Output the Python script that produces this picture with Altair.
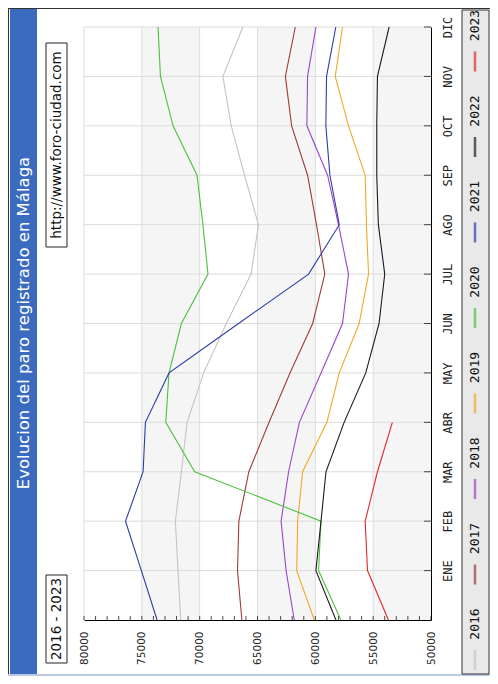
import altair as alt
import pandas as pd

MONTHS = ["ENE", "FEB", "MAR", "ABR", "MAY", "JUN", "JUL", "AGO", "SEP", "OCT", "NOV", "DIC"]
YEARS = ["2016", "2017", "2018", "2019", "2020", "2021", "2022", "2023"]
COLORS = ["#c4c4c4", "#a03a3a", "#9b45cc", "#f0aa25", "#4cc23c", "#2e3ca8", "#1c1c1c", "#e42828"]
WIDTHS = [1.1, 1.1, 1.2, 1.2, 1.8, 1.2, 1.3, 1.3]

# index 0 = start of the month axis, then ENE .. DIC
P2016 = [71640, 71870, 72100, 71580, 71090, 69660, 67700, 65550, 64920, 66120, 67270, 67990, 66270]
P2017 = [66350, 66730, 66610, 65750, 64000, 62190, 60230, 59180, 59900, 60670, 62050, 62590, 61730]
P2018 = [61820, 62530, 62960, 62310, 61380, 59510, 57650, 57130, 58000, 58940, 60730, 60670, 59950]
P2019 = [60090, 61610, 61530, 61100, 59000, 57930, 56210, 55400, 55580, 55690, 57130, 58280, 57650]
P2020 = [57790, 59720, 59510, 70430, 72930, 72650, 71580, 69280, 69720, 70230, 72300, 73390, 73600]
P2021 = [73680, 75040, 76410, 74890, 74690, 72650, 66640, 60580, 57930, 58740, 59090, 59030, 58230]
P2022 = [58220, 59950, 59510, 59080, 57510, 55640, 54490, 54000, 54550, 54690, 54690, 54630, 53620]
P2023 = [53680, 55490, 55690, 54630, 53340]

SERIES = [P2016, P2017, P2018, P2019, P2020, P2021, P2022, P2023]

VALUE_LABELS = [50000, 55000, 60000, 65000, 70000, 75000, 80000]
VALUE_GRID = [55000, 60000, 65000, 70000, 75000, 80000]
MINOR_TICKS = list(range(50000, 80001, 1000))
BAND_START = [75000, 65000, 55000]
BAND_END = [70000, 60000, 50000]
MONTH_POS = list(range(1, 13))

TITLE = "Evolucion del paro registrado en Málaga"
URL = "http://www.foro-ciudad.com"
RANGE_LABEL = "2016 - 2023"

rows = []
for year, vals in zip(YEARS, SERIES):
    for i, v in enumerate(vals):
        rows.append({"year": year, "m": i, "v": v})
df = pd.DataFrame(rows)

bands_df = pd.DataFrame({"s": BAND_START, "e": BAND_END})
vgrid_df = pd.DataFrame({"g": VALUE_GRID})
mgrid_df = pd.DataFrame({"m": MONTH_POS})
minor_df = pd.DataFrame({"t": MINOR_TICKS})
legend_df = pd.DataFrame({"year": YEARS, "li": list(range(len(YEARS)))})
one = pd.DataFrame({"k": [0]})

W, H = 347, 593
XS = alt.Scale(domain=[50000, 80000], reverse=True, nice=False, zero=False)
YS = alt.Scale(domain=[0, 12], nice=False, zero=False)
LS = alt.Scale(domain=[0, 7], range=[633, 34.5])
CS = alt.Scale(domain=YEARS, range=COLORS)
SW = alt.Scale(domain=YEARS, range=WIDTHS)

SANS = "DejaVu Sans"
MONO = "DejaVu Sans Mono"

month_expr = "[" + ",".join("'%s'" % m for m in MONTHS) + "][datum.value - 1]"

# frame and left title band
frame_left = alt.Chart(one).mark_rule(color="#333333", strokeWidth=1).encode(
    x=alt.value(-75.5), y=alt.value(-19), y2=alt.value(649))
frame_top = alt.Chart(one).mark_rule(color="#333333", strokeWidth=1).encode(
    x=alt.value(-76), x2=alt.value(406), y=alt.value(-18.5))
frame_bottom = alt.Chart(one).mark_rule(color="#b9c9e2", strokeWidth=2).encode(
    x=alt.value(-76), x2=alt.value(406), y=alt.value(648))
band = alt.Chart(one).mark_rect(fill="#3b6bbf").encode(
    x=alt.value(-74), x2=alt.value(-47), y=alt.value(-18), y2=alt.value(647))
title = alt.Chart(pd.DataFrame({"t": [TITLE]})).mark_text(
    angle=270, font=SANS, fontSize=16.5, color="#ffffff").encode(
    x=alt.value(-60.5), y=alt.value(296), text="t:N")

url_box = alt.Chart(one).mark_rect(fill="#ffffff", stroke="#222222", strokeWidth=1).encode(
    x=alt.value(-38), x2=alt.value(-17), y=alt.value(16), y2=alt.value(220))
url_txt = alt.Chart(pd.DataFrame({"t": [URL]})).mark_text(
    angle=270, font=SANS, fontSize=13.5, color="#111111").encode(
    x=alt.value(-27.5), y=alt.value(118), text="t:N")
range_box = alt.Chart(one).mark_rect(fill="#ffffff", stroke="#222222", strokeWidth=1).encode(
    x=alt.value(-38), x2=alt.value(-17), y=alt.value(548), y2=alt.value(636))
range_txt = alt.Chart(pd.DataFrame({"t": [RANGE_LABEL]})).mark_text(
    angle=270, font=SANS, fontSize=13.5, color="#111111").encode(
    x=alt.value(-27.5), y=alt.value(592), text="t:N")

# plot background bands and grid
bands = alt.Chart(bands_df).mark_rect(fill="#f5f5f5").encode(
    x=alt.X("s:Q", scale=XS, axis=None), x2="e:Q",
    y=alt.YDatum(0, scale=YS, axis=None), y2=alt.Y2Datum(12))
vgrid = alt.Chart(vgrid_df).mark_rule(color="#dcdcdc", strokeWidth=1).encode(
    x=alt.X("g:Q", scale=XS, axis=None),
    y=alt.YDatum(0, scale=YS, axis=None), y2=alt.Y2Datum(12))
hgrid = alt.Chart(mgrid_df).mark_rule(color="#dcdcdc", strokeWidth=1).encode(
    y=alt.Y("m:Q", scale=YS, axis=None),
    x=alt.XDatum(80000, scale=XS, axis=None), x2=alt.X2Datum(50000))

lines = alt.Chart(df).mark_line().encode(
    x=alt.X("v:Q", scale=XS, axis=alt.Axis(
        values=VALUE_LABELS, format="d", title=None, grid=False, ticks=False,
        labelAngle=270, labelAlign="right", labelBaseline="middle", labelPadding=11,
        labelFont=SANS, labelFontSize=10.5, labelColor="#222222", labelFlush=False,
        labelOverlap=False, domainColor="#000000", domainWidth=1)),
    y=alt.Y("m:Q", scale=YS, axis=alt.Axis(
        orient="right", values=MONTH_POS, labelExpr=month_expr, title=None,
        grid=False, ticks=False, labelAngle=270, labelAlign="center",
        labelBaseline="top", labelPadding=11, labelFont=MONO, labelFontSize=12,
        labelColor="#222222", labelFlush=False, labelOverlap=False,
        domainColor="#000000", domainWidth=1)),
    color=alt.Color("year:N", scale=CS, legend=None),
    strokeWidth=alt.StrokeWidth("year:N", scale=SW, legend=None),
    order=alt.Order("m:Q"),
)

xticks = alt.Chart(minor_df).mark_tick(
    orient="vertical", size=4, thickness=1, yOffset=-2, color="#000000").encode(
    x=alt.X("t:Q", scale=XS, axis=None), y=alt.YDatum(0, scale=YS, axis=None))
yticks = alt.Chart(mgrid_df).mark_tick(
    orient="horizontal", size=7, thickness=1, xOffset=-3.5, color="#000000").encode(
    y=alt.Y("m:Q", scale=YS, axis=None), x=alt.XDatum(50000, scale=XS, axis=None))

# legend drawn on the right, rotated like the rest of the picture
leg_box = alt.Chart(one).mark_rect(fill="#e9e9e9", stroke="#333333", strokeWidth=1).encode(
    x=alt.value(378), x2=alt.value(405), y=alt.value(-17), y2=alt.value(647))
leg_sym = alt.Chart(legend_df).mark_tick(orient="vertical", size=20, thickness=2.5).encode(
    x=alt.value(391), y=alt.Y("li:Q", scale=LS, axis=None),
    color=alt.Color("year:N", scale=CS, legend=None))
leg_txt = alt.Chart(legend_df).mark_text(
    angle=270, font=MONO, fontSize=13, yOffset=-36, color="#111111").encode(
    x=alt.value(391), y=alt.Y("li:Q", scale=LS, axis=None), text="year:N")

chart = alt.layer(
    band, frame_left, frame_top, frame_bottom, title, url_box, url_txt, range_box, range_txt,
    bands, vgrid, hgrid, lines, xticks, yticks, leg_box, leg_sym, leg_txt,
).resolve_scale(x="independent", y="independent").properties(
    width=W, height=H,
    padding={"left": 76, "top": 19, "right": 59, "bottom": 56},
    autosize=alt.AutoSizeParams(type="none"),
    background="#ffffff",
).configure_view(stroke=None)

chart.save("out.html", embed_options={"renderer": "svg", "actions": False})
